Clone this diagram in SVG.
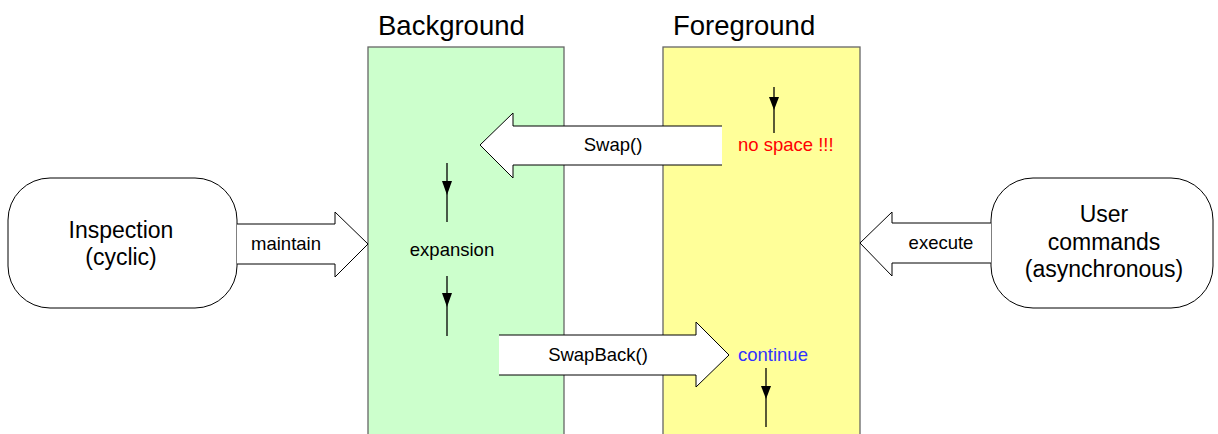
<svg xmlns="http://www.w3.org/2000/svg" width="1218" height="434" viewBox="0 0 1218 434">
<defs>
<style>
text{font-family:"Liberation Sans",Arial,sans-serif;fill:#000}
.lane{stroke:#666;stroke-width:1.3}
.big{stroke:#000;stroke-width:1;fill:#fff}
.title{font-size:27.5px}
.node{font-size:23px;text-anchor:middle}
.lbl{font-size:18.5px;text-anchor:middle}
.flow{stroke:#000;stroke-width:1.3;fill:none}
</style>
</defs>
<rect width="1218" height="434" fill="#fff"/>
<g id="background">
<rect class="lane" x="368" y="47" width="196" height="400" fill="#ccffcc"/>
<text class="title" x="378" y="35">Background</text>
</g>
<g id="foreground">
<rect class="lane" x="663" y="47" width="197" height="400" fill="#ffff99"/>
<text class="title" x="673" y="35">Foreground</text>
</g>
<g id="inspection">
<rect class="big" x="8" y="178" width="229" height="130" rx="42" ry="42"/>
<text class="node" x="121" y="238">Inspection</text>
<text class="node" x="121" y="265">(cyclic)</text>
</g>
<g id="user-commands">
<rect class="big" x="991" y="178" width="222" height="130" rx="42" ry="42"/>
<text class="node" x="1104" y="222">User</text>
<text class="node" x="1104" y="250">commands</text>
<text class="node" x="1104" y="277">(asynchronous)</text>
</g>
<g id="connectors">
<path class="big" d="M722,126 L513,126 L513,113 L480,145 L513,178 L513,165 L722,165"/>
<text class="lbl" x="613" y="151">Swap()</text>
<path class="big" d="M237,224 L335,224 L335,212 L368,244 L335,277 L335,264 L237,264"/>
<text class="lbl" x="286" y="250">maintain</text>
<path class="big" d="M991,223 L892,223 L892,212 L860,243 L892,276 L892,263 L991,263"/>
<text class="lbl" x="941" y="249">execute</text>
<path class="big" d="M499,335 L696,335 L696,322 L729,355 L696,387 L696,375 L499,375"/>
<text class="lbl" x="598" y="361">SwapBack()</text>
<line class="flow" x1="447" y1="163" x2="447" y2="222"/>
<path d="M442,181 L452,181 L447,195 Z"/>
<line class="flow" x1="447" y1="276" x2="447" y2="336"/>
<path d="M442,293 L452,293 L447,307 Z"/>
<line class="flow" x1="774" y1="87" x2="774" y2="133"/>
<path d="M769,97 L779,97 L774,110 Z"/>
<line class="flow" x1="766" y1="368" x2="766" y2="427"/>
<path d="M761,386 L771,386 L766,399 Z"/>
<text x="452" y="256" style="font-size:18.5px;text-anchor:middle">expansion</text>
<text x="738" y="151" style="font-size:18.5px;fill:#ff0000">no space !!!</text>
<text x="738" y="361" style="font-size:18.5px;fill:#3333ff">continue</text>
</g>
</svg>
